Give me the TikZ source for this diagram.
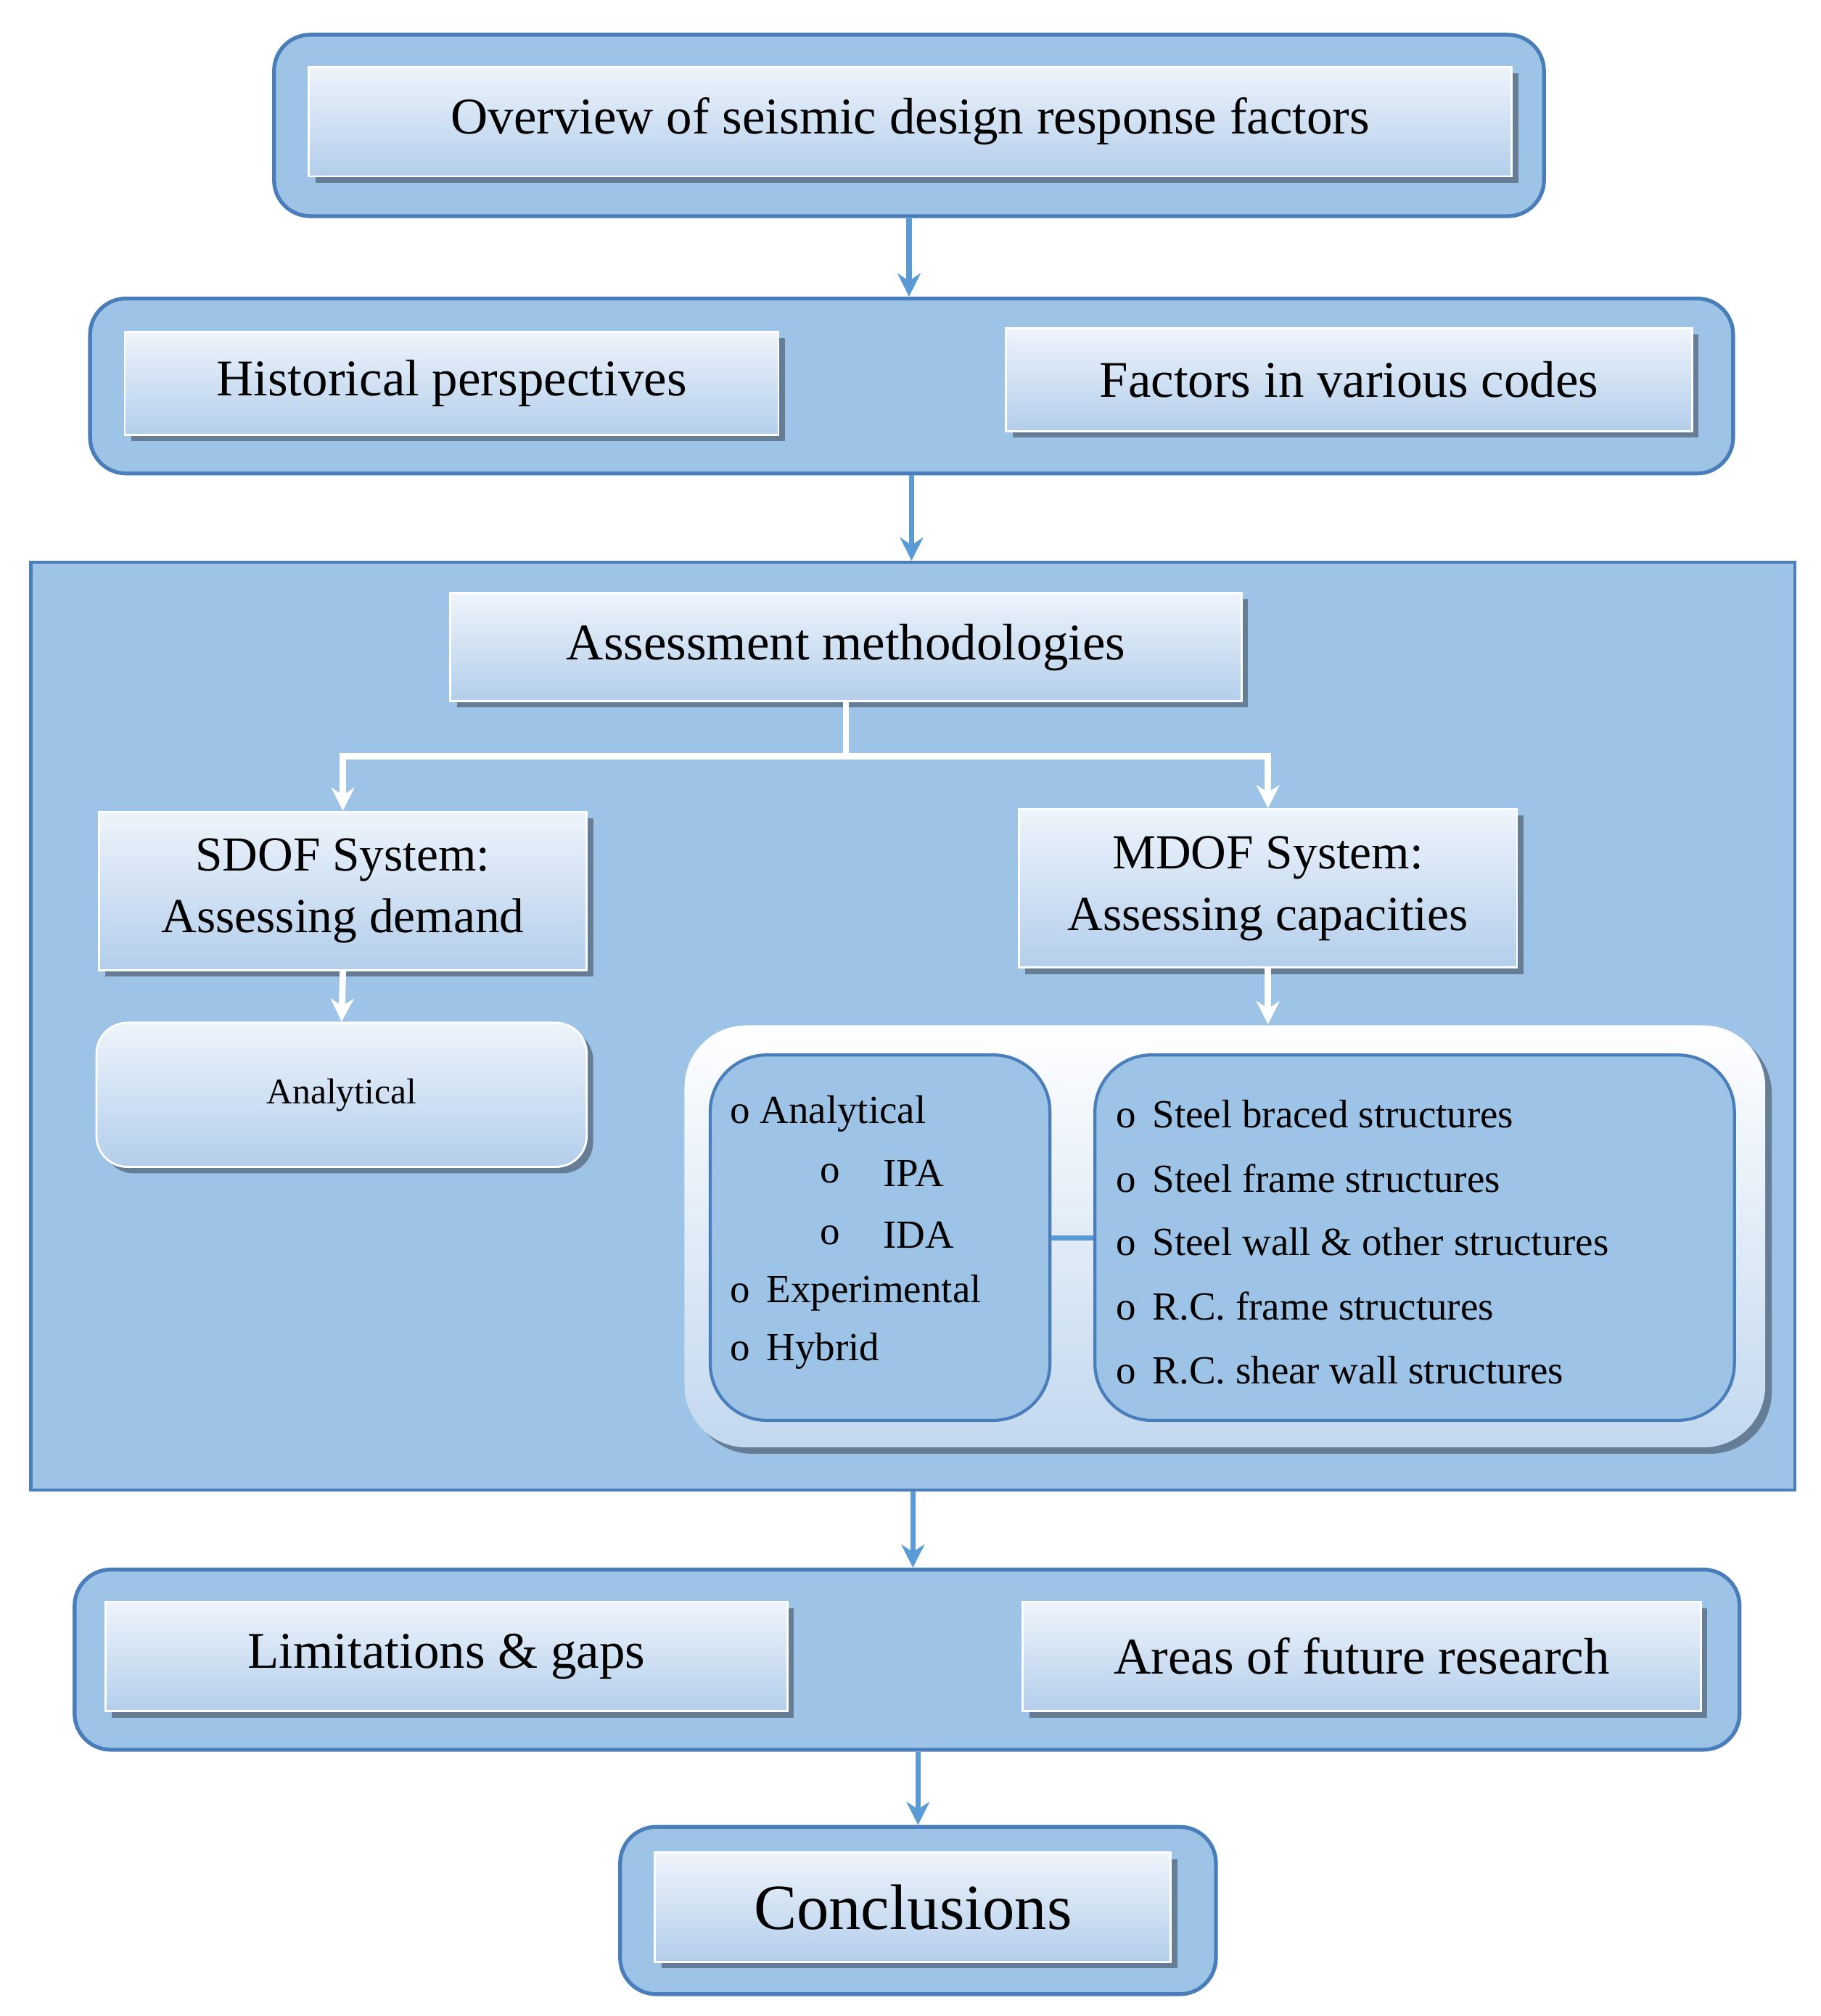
\documentclass[tikz,border=0pt]{standalone}
\usepackage{fontspec}
\setmainfont{Liberation Serif}
\usetikzlibrary{shadows,arrows.meta}
\definecolor{bfill}{HTML}{9DC3E6}
\definecolor{bdraw}{HTML}{4A7EBB}
\definecolor{arr}{HTML}{5B9BD5}
\definecolor{gtop}{HTML}{EEF4FB}
\definecolor{gbot}{HTML}{B3CEEB}
\tikzset{
 outer/.style={draw=bdraw,line width=1.5pt,fill=bfill,rounded corners=14pt},
 inbox/.style={top color=gtop,bottom color=gbot,draw=white,line width=0.8pt,
   drop shadow={shadow xshift=2.5pt,shadow yshift=-2.5pt,fill=black,opacity=0.35},font=\fontsize{20}{24}\selectfont,align=center,inner sep=0pt},
 barr/.style={draw=arr,line width=2pt,-{Stealth[length=9pt,width=9pt]}},
 warr/.style={draw=white,line width=2.5pt,-{Stealth[length=9pt,width=9pt]}},
 lst/.style={anchor=west,font=\fontsize{15.5}{18}\selectfont,inner sep=0pt},
}
\begin{document}
\begin{tikzpicture}[x=0.5pt,y=-0.5pt]
\useasboundingbox (0,0) rectangle (1415,1567);
\fill[white] (0,0) rectangle (1415,1567);
% row 1
\node[outer,minimum width=493.5pt,minimum height=70.5pt] (o1) at (706.5,97.5) {};
\node[inbox,minimum width=467.5pt,minimum height=42.5pt] (title) at (707.5,94.5) {Overview of seismic design response factors};
% row 2
\node[outer,minimum width=638.5pt,minimum height=68pt] (o2) at (708.5,300) {};
\node[inbox,minimum width=254pt,minimum height=40pt] (hist) at (351,298) {Historical perspectives};
\node[inbox,minimum width=266.5pt,minimum height=40pt] (fact) at (1048.5,295) {Factors in various codes};
% big
\node[draw=bdraw,line width=1.2pt,fill=bfill,minimum width=685.5pt,minimum height=360.5pt] (big) at (709.5,797.5) {};
\node[inbox,minimum width=307.5pt,minimum height=42pt] (assess) at (657.5,503) {Assessment methodologies};
\node[inbox,minimum width=189.5pt,minimum height=61.5pt,font=\fontsize{19}{24}\selectfont] (sdof) at (266.5,692.5) {SDOF System:\\ Assessing demand};
\node[inbox,minimum width=193.5pt,minimum height=61.5pt,font=\fontsize{19}{24}\selectfont] (mdof) at (985.5,690.5) {MDOF System:\\ Assessing capacities};
\node[inbox,rounded corners=12pt,minimum width=190.5pt,minimum height=56pt,font=\fontsize{14}{17}\selectfont] (anal) at (265.5,851) {Analytical};
\node[inbox,draw=none,rounded corners=24pt,minimum width=420pt,minimum height=164pt,top color=white,bottom color=gbot!80] (cont) at (952,961) {};
\node[draw=bdraw,line width=1.2pt,fill=bfill,rounded corners=22pt,minimum width=132pt,minimum height=142pt] (lbox) at (684,962) {};
\node[draw=bdraw,line width=1.2pt,fill=bfill,rounded corners=22pt,minimum width=248.5pt,minimum height=142pt] (rbox) at (1099.5,962) {};
\draw[arr,line width=2pt] (lbox.east) -- (rbox.west);
% list left
\node[lst] (l1) at (567,866) {o Analytical};
\node[lst] (l2b) at (637,912) {o};
\node[lst] (l2) at (686,912) {IPA};
\node[lst] (l3b) at (637,960) {o};
\node[lst] (l3) at (686,960) {IDA};
\node[lst] (l4) at (567,1005) {o\, Experimental};
\node[lst] (l5) at (567,1050) {o\, Hybrid};
% list right
\foreach \t [count=\i] in {Steel braced structures,Steel frame structures,Steel wall \& other structures,R.C. frame structures,R.C. shear wall structures}
  \node[lst] (r\i) at (867,{866+49.7*(\i-1)}) {o\, \t};
% white connectors
\coordinate (j) at (655,588);
\draw[warr] (assess.south) |- (sdof.north |- j) -- (sdof.north);
\draw[warr] (assess.south) |- (mdof.north |- j) -- (mdof.north);
\draw[warr] (sdof.south) -- (anal.north);
\draw[warr] (mdof.south) -- (mdof.south |- cont.north);
% row 4
\node[outer,minimum width=647pt,minimum height=70pt] (o4) at (705,1290) {};
\node[inbox,minimum width=265pt,minimum height=42.5pt] (lim) at (347,1287.5) {Limitations \& gaps};
\node[inbox,minimum width=263.5pt,minimum height=42.5pt] (areas) at (1058.5,1287.5) {Areas of future research};
% row 5
\node[outer,minimum width=231.5pt,minimum height=65pt] (o5) at (713.5,1485) {};
\node[inbox,minimum width=200.5pt,minimum height=42.5pt,font=\fontsize{25}{30}\selectfont] (concl) at (709.5,1482.5) {Conclusions};
% blue arrows
\draw[barr] (o1.south) -- (o1.south |- o2.north);
\draw[barr] (o2.south) -- (o2.south |- big.north);
\draw[barr] (big.south) -- (big.south |- o4.north);
\draw[barr] (o5.north |- o4.south) -- (o5.north);
\end{tikzpicture}
\end{document}
